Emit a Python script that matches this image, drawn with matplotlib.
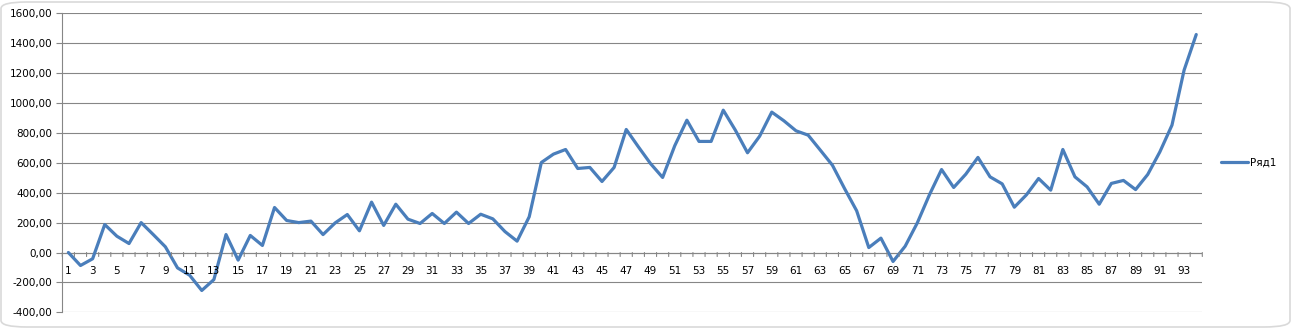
import matplotlib
matplotlib.use("Agg")
import matplotlib.pyplot as plt
from matplotlib.patches import FancyBboxPatch
from matplotlib.ticker import FuncFormatter, FixedLocator

categories = list(range(1, 95))
series_name = "Ряд1"
values = [0, -87, -42, 187, 109, 60, 200, 120, 38, -103,
          -152, -254, -181, 120, -51, 114, 47, 301, 214, 200,
          210, 120, 198, 254, 145, 337, 181, 323, 223, 194,
          261, 194, 270, 194, 256, 225, 140, 76, 239, 602,
          658, 689, 562, 569, 475, 569, 823, 707, 595, 502,
          714, 885, 743, 743, 952, 818, 667, 778, 939, 881,
          814, 785, 685, 584, 428, 279, 33, 96, -60, 42,
          198, 386, 555, 435, 524, 636, 506, 459, 303, 386,
          495, 417, 689, 506, 439, 323, 462, 482, 421, 522,
          673, 852, 1220, 1458]
y_ticks = [-400, -200, 0, 200, 400, 600, 800, 1000, 1200, 1400, 1600]
x_labels = [str(c) for c in categories if c % 2 == 1]

W, H = 1292, 328
fig = plt.figure(figsize=(W / 100, H / 100), dpi=100)
fig.patch.set_facecolor("white")

# outer chart border
border = FancyBboxPatch((1 / W, 1 / H), 1 - 3 / W, 1 - 3 / H,
                        boxstyle="round,pad=0,rounding_size=0.02",
                        transform=fig.transFigure, fill=False,
                        edgecolor="#d9d9d9", linewidth=1.2)
fig.patches.append(border)

left, right = 62.3 / W, 1202.3 / W
top, bottom = 1 - 13.3 / H, 1 - 312.3 / H
ax = fig.add_axes([left, bottom, right - left, top - bottom])

grid_color = "#868686"
txt_color = "#000000"
fs = 7.5

ax.plot(categories, values, color="#4a7ebb", linewidth=2.3,
        solid_joinstyle="round", solid_capstyle="round", label=series_name,
        zorder=3)

ax.set_xlim(0.5, len(categories) + 0.5)
ax.set_ylim(min(y_ticks), max(y_ticks))

# gridlines
for yt in y_ticks:
    ax.axhline(yt, color=grid_color, linewidth=0.8, zorder=1)

for s in ["top", "right", "bottom"]:
    ax.spines[s].set_visible(False)
ax.spines["left"].set_color(grid_color)
ax.spines["left"].set_linewidth(0.8)

ax.set_yticks(y_ticks)
ax.yaxis.set_major_formatter(FuncFormatter(lambda v, p: f"{v:.2f}".replace(".", ",")))
ax.tick_params(axis="y", length=4, width=0.8, color=grid_color,
               labelsize=fs, labelcolor=txt_color, pad=3)

# x axis: no standard ticks; draw category axis at y=0
ax.set_xticks([])
ax.axhline(0, color=grid_color, linewidth=0.8, zorder=2)
trans = ax.get_xaxis_transform()
import matplotlib.transforms as mtransforms
tick_off = mtransforms.offset_copy(ax.transData, fig=fig, x=0, y=-4 / 100 * 72, units="points")
for b in [c + 0.5 for c in range(0, len(categories) + 1)]:
    ax.plot([b, b], [0, 0], transform=ax.transData, alpha=0)
    ax.annotate("", xy=(b, 0), xytext=(0, -4), textcoords="offset pixels",
                xycoords="data",
                arrowprops=dict(arrowstyle="-", color=grid_color, lw=0.8,
                                shrinkA=0, shrinkB=0))
for c in categories:
    if c % 2 == 1:
        ax.annotate(str(c), xy=(c, 0), xytext=(0, -18), textcoords="offset pixels",
                    ha="center", va="center", fontsize=fs, color=txt_color)

fig.legend(loc="center left", bbox_to_anchor=(1221 / W, 1 - 163 / H),
           frameon=False, fontsize=fs, handlelength=2.6, handletextpad=0.2,
           borderpad=0, borderaxespad=0)

fig.savefig("out.png", dpi=100, facecolor="white")
